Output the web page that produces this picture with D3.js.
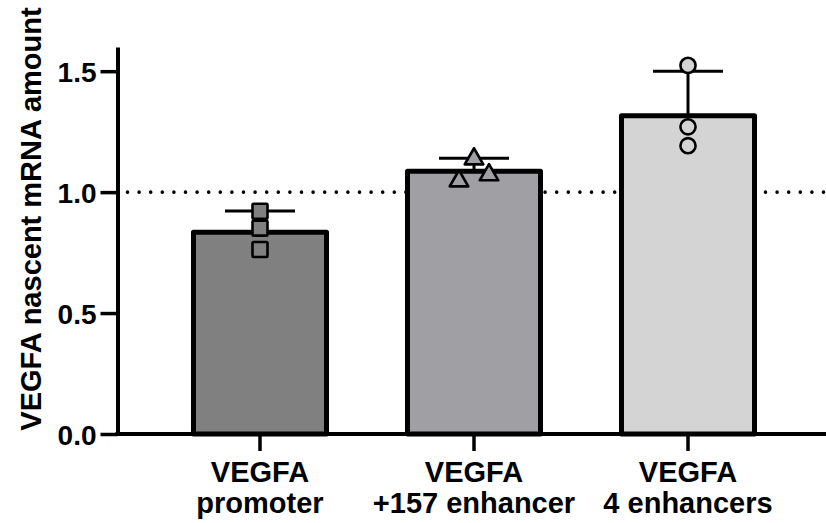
<!DOCTYPE html>
<html>
<head>
<meta charset="utf-8">
<script src="https://cdn.jsdelivr.net/npm/d3@7"></script>
<style>
body { margin: 0; background: #fff; }
text { font-family: "Liberation Sans", Arial, sans-serif; font-weight: bold; fill: #000; }
</style>
</head>
<body>
<script>
// chart data
var categories = ["promoter", "+157 enhancer", "4 enhancers"];
var labelTop = ["VEGFA", "VEGFA", "VEGFA"];
var means = [0.834, 1.086, 1.316];
var sdTop = [0.922, 1.140, 1.500];
var points = [
    [0.921, 0.851, 0.763],
    [1.137, 1.046, 1.071],
    [1.524, 1.270, 1.192]
];
var pointOffsets = [
    [0, 0, 0],
    [0, -1, 1],
    [0, 0, 0]
];
var yTicks = [0, 0.5, 1.0, 1.5];
var refLine = 1.0;
var fills = ["#808080", "#a0a0a4", "#d4d4d4"];

var w = 826, h = 523;

var svg = d3.select("body").append("svg")
    .attr("width", w)
    .attr("height", h);

var x = d3.scaleBand()
    .domain(categories)
    .range([153, 795])
    .paddingInner(0.355)
    .paddingOuter(0.1775);

var y = d3.scaleLinear()
    .domain([0, 1.6])
    .range([434, 47]);

var axisX = 117.5;

// dotted reference line (behind the bars)
svg.append("line")
    .attr("x1", axisX + 10)
    .attr("x2", w)
    .attr("y1", y(refLine))
    .attr("y2", y(refLine))
    .attr("stroke", "#000")
    .attr("stroke-width", 3.6)
    .attr("stroke-linecap", "round")
    .attr("stroke-dasharray", "0,11.6");

// bars
svg.selectAll(".bar")
    .data(means)
    .enter()
    .append("rect")
    .attr("class", "bar")
    .attr("x", function(d, i){ return x(categories[i]) + 2.5; })
    .attr("width", x.bandwidth() - 5)
    .attr("y", function(d){ return y(d); })
    .attr("height", function(d){ return y(0) - y(d); })
    .attr("fill", function(d, i){ return fills[i]; })
    .attr("stroke", "#000")
    .attr("stroke-width", 5)
    .attr("stroke-linejoin", "round");

// error bars (upper only)
var cx = function(i){ return x(categories[i]) + x.bandwidth() / 2; };
var err = svg.selectAll(".err")
    .data(means)
    .enter()
    .append("g")
    .attr("class", "err");

err.append("line")
    .attr("x1", function(d, i){ return cx(i); })
    .attr("x2", function(d, i){ return cx(i); })
    .attr("y1", function(d){ return y(d); })
    .attr("y2", function(d, i){ return y(sdTop[i]); })
    .attr("stroke", "#000")
    .attr("stroke-width", 3);

err.append("line")
    .attr("x1", function(d, i){ return cx(i) - 35; })
    .attr("x2", function(d, i){ return cx(i) + 35; })
    .attr("y1", function(d, i){ return y(sdTop[i]); })
    .attr("y2", function(d, i){ return y(sdTop[i]); })
    .attr("stroke", "#000")
    .attr("stroke-width", 3);

// individual points
var flat = [];
points.forEach(function(arr, i){
    arr.forEach(function(v, j){
        flat.push({ g: i, v: v, off: pointOffsets[i][j] });
    });
});

var shapes = [d3.symbolSquare, d3.symbolTriangle, d3.symbolCircle];
var sizes = [200, 150, 180];

svg.selectAll(".pt")
    .data(flat)
    .enter()
    .append("path")
    .attr("class", "pt")
    .attr("d", function(d){
        if (d.g === 0) {
            // rounded square
            return "M-6.5,-7.5h13a1,1 0 0 1 1,1v13a1,1 0 0 1 -1,1h-13a1,1 0 0 1 -1,-1v-13a1,1 0 0 1 1,-1z";
        }
        return d3.symbol().type(shapes[d.g]).size(sizes[d.g])();
    })
    .attr("transform", function(d){
        return "translate(" + (cx(d.g) + d.off * 15) + "," + y(d.v) + ")";
    })
    .attr("fill", function(d){ return fills[d.g]; })
    .attr("stroke", "#000")
    .attr("stroke-width", 2.6)
    .attr("stroke-linejoin", "round");

// y axis
var yAxis = d3.axisLeft(y)
    .tickValues(yTicks)
    .tickFormat(d3.format(".1f"))
    .tickSize(17)
    .tickSizeOuter(0)
    .tickPadding(4);

var gy = svg.append("g")
    .attr("transform", "translate(" + axisX + ",0)")
    .call(yAxis);
gy.select(".domain").attr("stroke-width", 4);
gy.selectAll(".tick line").attr("stroke-width", 3.5);
gy.selectAll(".tick text")
    .attr("font-size", 28)
    .attr("font-family", "Liberation Sans, Arial, sans-serif")
    .attr("font-weight", "bold")
    .attr("dy", "0.36em");

// x axis
var xAxis = d3.axisBottom(x)
    .tickSize(17)
    .tickSizeOuter(0)
    .tickFormat("");

var gx = svg.append("g")
    .attr("transform", "translate(0," + y(0) + ")")
    .call(xAxis);
gx.select(".domain").remove();
gx.selectAll(".tick line").attr("stroke-width", 3.5);

svg.append("line")
    .attr("x1", axisX - 2)
    .attr("x2", w)
    .attr("y1", y(0))
    .attr("y2", y(0))
    .attr("stroke", "#000")
    .attr("stroke-width", 4);

// category labels, two lines each
var labels = svg.selectAll(".xlab")
    .data(categories)
    .enter()
    .append("text")
    .attr("class", "xlab")
    .attr("text-anchor", "middle")
    .attr("font-size", 29);

labels.append("tspan")
    .attr("x", function(d){ return x(d) + x.bandwidth() / 2; })
    .attr("y", 482)
    .text(function(d, i){ return labelTop[i]; });

labels.append("tspan")
    .attr("x", function(d){ return x(d) + x.bandwidth() / 2; })
    .attr("y", 513)
    .text(function(d){ return d; });

// y axis title
svg.append("text")
    .attr("transform", "translate(41," + 219 + ") rotate(-90)")
    .attr("text-anchor", "middle")
    .attr("font-size", 29)
    .text("VEGFA nascent mRNA amount");
</script>
</body>
</html>
